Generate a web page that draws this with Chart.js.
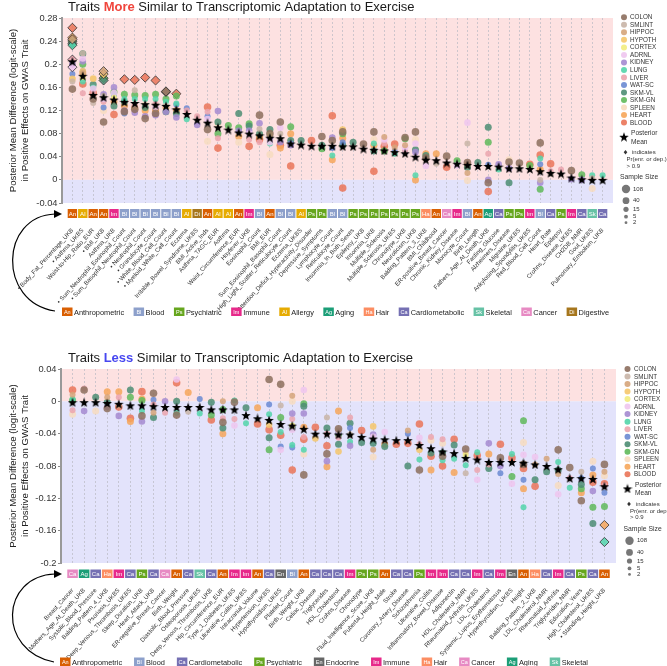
<!DOCTYPE html>
<html>
<head>
<meta charset="utf-8">
<script src="https://cdn.jsdelivr.net/npm/chart.js@4.4.0/dist/chart.umd.min.js"></script>
<style>
  body { margin: 0; background: #fff; }
  .wrap { position: relative; width: 667px; height: 333px; }
</style>
</head>
<body>
<div class="wrap"><canvas id="more" width="667" height="333" style="width:667px;height:333px"></canvas></div>
<div class="wrap"><canvas id="less" width="667" height="333" style="width:667px;height:333px"></canvas></div>
<script>
const _ = null;

// tissues (legend order)
const tissues = ['COLON', 'SMLINT', 'HIPPOC', 'HYPOTH', 'CORTEX', 'ADRNL', 'KIDNEY', 'LUNG',
  'LIVER', 'WAT-SC', 'SKM-VL', 'SKM-GN', 'SPLEEN', 'HEART', 'BLOOD'];

// ---------- top panel: traits more similar ----------
const moreTraits = ['Body_Fat_Percentage_UKB', 'Asthma_UKBS', 'Waist-to-Hip_Ratio_EUR', 'BMI_UKB', 'Asthma_UKB',
  'Sum_Neutrophil_Eosinophil_Count', 'Sum_Basophil_Neutrophil_Count', 'Neutrophil_Count', 'Granulocyte_Count',
  'White_Blood_Cell_Count', 'Myeloid_White_Cell_Count', 'Eczema', 'Irritable_Bowel_Syndrome_UKBS', 'BMI_Active_Inds',
  'Asthma_TAGC_EUR', 'Asthma', 'Waist_Circumference_EUR', 'Hayfever_UKB', 'Eosinophil_Count', 'BMI_EUR',
  'Sum_Eosinophil_Basophil_Count', 'High_Light_Scatter_Reticulocyte_Count', 'Eczema_UKBS',
  'Attention_Deficit_Hyperactivity_Disorder', 'Depressive_Symptoms', 'Lymphocyte_Count', 'Reticulocyte_Count',
  'Insomnia_In_Both_Sexes', 'Epilepsy_UKB', 'Insomnia_UKB', 'Multiple_Sclerosis', 'Multiple_Sclerosis_UKBS',
  'Chronotype_UKB', 'Neuroticism_UKB', 'Balding_Pattern_3_UKB', 'BMI_Childhood', 'ER-positive_Breast_Cancer',
  'Chronic_Kidney_Disease', 'Monocyte_Count', 'Birth_Length', 'Fathers_Age_At_Death_UKB', 'Fasting_Glucose',
  'Alzheimers_Disease', 'Migraine_UKBS', 'Ankylosing_Spondylitis_UKBS', 'Red_Blood_Cell_Count', 'Heart_Rate',
  'Epilepsy', 'Crohns_Disease_UKBS', 'CH2DB_NMR', 'Gout_UKBS', 'Pulmonary_Embolism_UKB'];
const moreGroups = ['An','Al','An','An','Im','Bl','Bl','Bl','Bl','Bl', 'Bl','Al','Di','An','Al','Al','An','Im','Bl','An',
  'Bl','Bl','Al','Ps','Ps','Bl','Bl','Ps','Ps','Ps', 'Ps','Ps','Ps','Ps','Ha','An','Cn','Im','Bl','An',
  'Ag','Ca','Ps','Ps','Im','Bl','Ca','Ps','Im','Ca', 'Sk','Ca'];
const moreBullets = [1, 2, 4, 6, 7, 8, 9, 10, 11];
const moreMeans = [.205,.180,.147,.143,.139,.135,.133,.131,.130,.128, .122,.114,.104,.099,.091,.087,.082,.080,.077,.073,
  .072,.063,.061,.059,.059,.059,.058,.058,.054,.052, .051,.048,.046,.040,.035,.034,.030,.028,.026,.024,
  .024,.023,.020,.020,.019,.015,.012,.011,.004,.001, .000,.000];
const moreColon = [.157,_,.140,.100,_,.118,.122,.106,.115,.153, _,_,_,.087,_,_,_,_,.112,.080,
  .100,_,_,_,.075,.068,.083,_,.062,.083, _,_,.073,.083,.038,_,.041,_,.030,_, -.005,_,.031,.029,_,.064,_,_,.016,_, _,_];
const moreSmlint = [.170,.219,.133,.145,_,_,.155,_,_,.128, _,_,_,_,_,_,_,_,.088,_,
  .080,_,_,_,_,_,_,_,_,_, _,_,_,_,_,.028,_,_,.063,_, _,_,_,_,_,.000,.010,_,_,_, .003,_];
const moreHippoc = [.243,.185,_,.188,_,_,_,_,_,.152, _,_,_,_,_,_,_,_,_,_,
  _,_,_,_,_,_,_,_,_,_, .074,.056,.060,_,_,_,_,_,.012,_, _,_,_,_,_,_,_,_,_,_, _,_];
const moreHypoth = [.175,.188,.175,.183,_,_,_,_,_,_, _,_,_,_,_,_,_,_,_,_,
  _,_,_,_,_,_,.087,_,_,_, _,_,_,_,_,_,_,_,_,_, _,_,_,_,_,_,_,_,_,_, _,_];
const moreCortex = [_,.178,_,_,.142,_,_,_,_,_, _,_,_,_,_,_,_,_,_,.078,
  _,_,_,_,_,_,_,_,_,_, _,_,_,_,_,_,_,_,_,_, _,_,_,_,_,_,_,_,_,_, _,_];
const moreAdrnl = [.195,.210,.158,.140,.150,_,_,_,.125,_, _,_,_,.105,_,_,_,.080,_,.065,
  .090,_,_,_,_,_,_,_,_,_, .070,_,.056,.063,.024,_,_,.025,.099,_, _,_,_,_,_,_,_,_,_,_, _,_];
const moreKidney = [.200,.205,_,.148,.160,.120,.116,.110,.112,.118, .108,_,.095,_,.119,_,.085,.085,.098,.072,
  .065,.060,_,_,_,.073,_,_,_,_, _,_,_,.048,_,_,_,_,_,_, .000,.027,.020,_,_,-.005,_,_,.001,.000, _,_];
const moreLung = [.233,.170,.160,_,.148,.140,.140,.140,.140,.135, .132,.105,_,_,_,_,_,_,_,.063,
  _,_,_,_,_,.042,_,_,_,.063, _,.045,_,.008,_,_,_,_,_,_, _,.018,_,_,_,.037,_,_,_,_, .008,.008];
const moreLiver = [.208,.150,.152,.135,.140,_,.130,_,.132,_, _,.120,.110,.118,.072,_,_,.070,.065,_,
  _,_,_,_,_,_,_,_,_,_, .063,_,.050,_,_,_,_,_,_,_, .045,_,_,_,_,_,.015,.018,_,_, _,_];
const moreWatsc = [.183,.188,_,.125,.146,.115,_,_,_,_, .130,.124,_,.110,_,_,_,_,_,_,
  _,.063,_,_,_,.055,.065,_,_,_, _,.050,.048,_,_,_,_,_,_,_, .026,_,_,_,_,.027,_,_,_,_, _,_];
const moreSkmvl = [.236,.218,.165,.172,.128,.135,_,.125,_,.118, .115,_,_,_,.100,_,.115,.093,.080,.087,
  _,.068,.068,_,.060,_,.060,.065,_,.050, _,_,_,.052,.042,_,_,_,.022,.030, .091,_,-.005,_,_,_,_,_,_,_, _,_];
const moreSkmgn = [.240,.200,_,.176,.152,.148,.147,.146,.148,.140, .145,_,_,_,.080,.094,.090,.097,_,_,
  _,.092,_,_,.054,_,.080,_,_,_, .050,_,.071,_,_,_,_,.033,_,_, .065,_,_,_,.025,-.016,_,_,_,.009, _,_];
const moreSpleen = [.174,.175,.176,.120,_,_,_,.130,_,_, _,_,_,.067,.095,_,.065,_,_,.044,
  _,_,_,_,_,_,_,_,_,.070, _,_,_,.070,_,_,_,_,-.001,_, _,_,.035,_,_,_,_,_,_,_, -.015,_];
const moreHeart = [.246,.185,_,_,.135,.128,.125,.120,.120,.125, .120,_,_,_,_,_,.075,_,.075,_,
  .055,.080,_,_,_,.035,.072,_,_,.060, _,_,_,.000,.045,.045,_,_,.025,_, _,_,_,_,_,.018,_,_,_,_, _,_];
const moreBlood = [.263,.166,.150,_,.113,.174,.173,.177,.172,_, .149,_,_,.126,.055,_,_,.058,.070,_,
  .060,.024,_,.068,_,.111,-.014,_,_,.015, .058,.062,_,_,_,_,.022,_,_,_, -.020,_,_,_,.027,.043,.028,_,_,_, _,_];
// Pr(enr. or dep.) > 0.9  -> [tissue, trait number]
const moreSignificant = [['HIPPOC',1],['ADRNL',1],['LUNG',1],['LIVER',1],['SKM-VL',1],['SKM-GN',1],['HEART',1],['BLOOD',1],
  ['HIPPOC',4],['HYPOTH',4],['SKM-VL',4],['SKM-GN',4],['BLOOD',6],['BLOOD',7],['BLOOD',8],['BLOOD',9],
  ['COLON',10],['HIPPOC',10],['BLOOD',11]];

// ---------- bottom panel: traits less similar ----------
const lessTraits = ['Breast_Cancer', 'Mothers_Age_At_Death_UKB', 'Systolic_Blood_Pressure', 'Balding_Pattern_4_UKB',
  'Psoriasis_UKBS', 'Deep_Venous_Thrombosis_UKBS', 'Sleep_Duration_UKB', 'Heart_Attack_UKB', 'ER-negative_Breast_Cancer',
  'Birth_Weight', 'Diastolic_Blood_Pressure', 'Osteoporosis_UKBS', 'Deep_Venous_Thrombosis_UKB', 'Hip_Circumference_EUR',
  'Type_1_Diabetes_UKBS', 'Ulcerative_Colitis_UKBS', 'Intracranial_Volume', 'Hypertension_UKBS', 'Hypothyroidism_UKBS',
  'Platelet_Count', 'Birth_Weight_UKB', 'Celiac_Disease', 'Triglycerides', 'HDL_Cholesterol', 'Crohns_Disease',
  'Chronotype', 'Fluid_Intelligence_Score_UKB', 'Pubertal_Height_Male', 'Stroke', 'Coronary_Artery_Disease',
  'Schizophrenia', 'Ulcerative_Colitis', 'Inflammatory_Bowel_Disease', 'Adiponectin', 'HDL_Cholesterol_NMR',
  'Rheumatoid_Arthritis_UKBS', 'LDL_Cholesterol', 'Systemic_Lupus_Erythematosus', 'Hyperthyroidism_UKBS', 'Height',
  'Balding_Pattern_2_UKB', 'LDL_Cholesterol_NMR', 'Rheumatoid_Arthritis', 'Triglycerides_NMR', 'Education_Years',
  'High_Cholesterol_UKBS', 'Standing_Height_UKB'];
const lessGroups = ['Cn','Ag','Ca','Ha','Im','Ca','Ps','Ca','Cn','An', 'Ca','Sk','Ca','An','Im','Im','An','Ca','En','Bl',
  'An','Ca','Ca','Ca','Im','Ps','Ps','An','Ca','Ca', 'Ps','Im','Im','Ca','Ca','Im','Ca','Im','En','An',
  'Ha','Ca','Im','Ca','Ps','Ca','An'];
const lessBullets = [47];
const lessMeans = [-.001,-.001,-.001,-.002,-.003,-.005,-.005,-.006,-.007,-.007, -.007,-.007,-.010,-.010,-.010,-.017,-.021,-.023,-.028,-.030,
  -.034,-.040,-.040,-.041,-.041,-.044,-.046,-.047,-.048,-.048, -.054,-.058,-.062,-.064,-.070,-.072,-.075,-.075,-.075,-.076,
  -.078,-.080,-.084,-.095,-.095,-.096,-.105];
const lessColon = [_,.014,_,-.009,_,_,-.018,.010,_,-.017, _,_,_,-.026,-.001,_,_,.027,.021,_,
  -.091,_,-.065,-.034,_,_,_,_,_,_, -.085,_,-.068,_,-.059,_,_,-.070,_,-.078, _,_,-.060,-.082,-.123,_,-.078];
const lessSmlint = [_,_,_,_,_,_,_,_,_,_, -.013,_,_,_,_,_,_,_,-.005,_,
  _,_,-.020,-.036,-.041,_,_,_,_,_, _,_,_,_,-.089,_,_,_,_,_, _,_,_,_,-.087,_,_];
const lessHippoc = [.008,_,_,.005,-.005,_,_,-.014,_,_, _,_,_,.000,_,_,_,_,_,.007,
  _,_,_,_,_,_,-.060,_,_,-.036, _,_,_,_,_,_,_,_,_,_, -.078,-.071,-.090,_,_,_,-.087];
const lessHypoth = [_,_,_,_,_,_,_,_,_,_, _,_,_,_,_,_,_,-.029,_,_,
  _,-.046,_,-.062,_,_,-.031,_,_,_, -.060,_,_,_,_,_,_,_,_,_, _,_,_,_,_,_,_];
const lessCortex = [_,_,_,_,_,_,_,_,_,_, _,_,_,_,_,_,_,_,_,-.030,
  _,_,_,_,_,_,_,_,_,_, _,_,_,_,-.066,_,_,_,_,_, _,_,_,_,_,_,_];
const lessAdrnl = [_,_,_,_,_,_,_,_,_,.027, _,_,_,_,-.030,_,_,_,-.060,-.035,
  .014,_,_,_,_,_,-.044,-.038,_,_, -.045,_,_,_,_,-.097,_,_,-.102,-.066, -.069,_,-.115,_,_,_,_];
const lessKidney = [_,-.012,_,-.007,-.018,_,-.025,_,.000,_, _,_,_,_,_,_,_,_,_,-.015,
  -.015,_,-.074,-.039,-.055,_,-.041,_,_,_, _,_,_,_,_,_,-.052,-.080,_,_, _,_,_,_,_,-.111,_];
const lessLung = [.003,_,_,_,_,_,-.012,_,_,-.014, _,-.015,_,_,.001,-.027,_,-.016,-.038,-.054,
  -.060,_,_,_,-.050,_,_,_,_,_, -.072,_,-.073,-.071,-.079,-.063,_,_,-.065,-.131, _,_,-.075,-.107,_,_,-.174];
const lessLiver = [-.011,.016,_,_,.005,_,_,-.004,-.014,_, _,_,_,-.021,-.022,_,_,_,_,-.022,
  -.044,_,-.040,-.045,-.020,_,_,_,_,_, -.053,-.044,-.047,_,-.063,-.085,-.078,_,_,_, _,_,_,-.095,_,_,-.104];
const lessWatsc = [_,_,_,_,_,_,_,.002,_,_, _,.003,_,_,_,_,_,-.004,-.056,-.057,
  _,_,_,_,-.033,_,_,_,_,-.040, _,_,_,_,_,_,_,-.089,_,-.097, _,_,_,_,-.095,-.083,-.113];
const lessSkmvl = [_,_,.005,-.001,_,.014,_,-.020,_,.000, _,_,-.001,-.033,_,-.008,_,-.045,_,-.033,
  -.006,_,-.033,-.053,-.027,-.051,-.052,-.056,_,-.080, _,-.064,-.064,-.054,_,_,-.083,_,_,_, -.097,-.087,-.085,_,-.103,-.151,_];
const lessSkmgn = [.001,_,_,_,_,.005,.001,_,_,_, _,_,-.017,-.010,_,_,_,-.060,-.020,_,
  -.003,_,_,-.041,_,_,_,_,_,_, _,_,_,_,_,_,_,_,-.093,-.024, _,_,_,_,-.108,-.131,-.130];
const lessSpleen = [-.016,_,-.012,_,_,_,_,_,_,_, _,_,_,_,_,_,_,_,_,.000,
  -.065,_,_,_,_,_,-.069,_,_,_, _,-.048,-.052,_,_,_,_,_,_,-.051, _,_,-.104,_,_,-.074,-.092];
const lessHeart = [_,_,_,.012,.012,-.025,.003,_,_,_, .011,_,_,-.040,_,_,-.008,_,_,_,
  -.032,_,-.081,-.012,_,_,_,-.053,_,_, _,-.085,_,-.088,_,_,-.065,_,_,-.108, _,_,_,_,-.113,-.091,-.153];
const lessBlood = [.014,_,_,_,-.007,-.021,.012,_,_,.023, _,_,-.023,_,_,_,-.028,-.035,-.042,-.085,
  -.047,-.032,-.055,_,_,-.036,_,_,-.053,-.052, -.028,-.068,-.080,-.047,_,-.067,_,-.053,-.070,-.083, -.105,_,_,_,_,-.100,-.102];
const lessSignificant = [['LUNG',47],['HEART',47]];

// ---------- styles ----------
const tissueColors = ['#8c6e5d', '#c8b4a6', '#d5a47a', '#f5c66a', '#f2ec7e', '#eec5ee', '#a48ad0', '#52d5aa',
  '#eba5ae', '#6a8ad2', '#4c8d73', '#5fb95a', '#f7dcc0', '#f6a65a', '#ea7458'];
const tissueRadius = [3.8, 3, 3, 3.3, 3, 3.3, 3.3, 3, 3, 3, 3.5, 3.5, 3.5, 3.5, 3.8];
const groupColors = { An: '#d95f02', Al: '#e6ab02', Im: '#e7298a', Bl: '#8da0cb', Di: '#a6761d', Ps: '#66a61e',
  Ag: '#1b9e77', Ha: '#fc8d62', Ca: '#7570b3', Sk: '#66c2a5', Cn: '#e78ac3', En: '#666666' };
const groupText = { An: 'An', Al: 'Al', Im: 'Im', Bl: 'Bl', Di: 'Di', Ps: 'Ps', Ag: 'Ag', Ha: 'Ha', Ca: 'Ca', Sk: 'Sk', Cn: 'Ca', En: 'En' };
const groupNames = { An: 'Anthropometric', Al: 'Allergy', Im: 'Immune', Bl: 'Blood', Di: 'Digestive', Ps: 'Psychiatric',
  Ag: 'Aging', Ha: 'Hair', Ca: 'Cardiometabolic', Sk: 'Skeletal', Cn: 'Cancer', En: 'Endocrine' };

Chart.defaults.font.family = 'Arial, "Liberation Sans", sans-serif';

function hexA(hex, a) {
  const n = parseInt(hex.slice(1), 16);
  return `rgba(${n >> 16},${(n >> 8) & 255},${n & 255},${a})`;
}

function makeStar(size) {
  const c = document.createElement('canvas');
  c.width = c.height = size;
  const g = c.getContext('2d');
  g.beginPath();
  for (let i = 0; i < 10; i++) {
    const r = i % 2 ? size * 0.21 : size * 0.5;
    const t = -Math.PI / 2 + i * Math.PI / 5;
    g.lineTo(size / 2 + r * Math.cos(t), size / 2 + 0.6 + r * Math.sin(t));
  }
  g.closePath();
  g.fillStyle = '#000';
  g.fill();
  return c;
}
const starImg = makeStar(10);

function drawStar(ctx, x, y) {
  ctx.drawImage(starImg, x - 5, y - 5);
}

// extra drawing: bands, title, category badges, arrow, legends
function panelPlugin(p) {
  return {
    id: 'panel_' + p.id,
    beforeDraw(chart) {
      const { ctx, chartArea: a } = chart;
      const y0 = chart.scales.y.getPixelForValue(0);
      ctx.save();
      ctx.fillStyle = '#fde1e1';
      ctx.fillRect(a.left, a.top, a.right - a.left, y0 - a.top);
      ctx.fillStyle = '#e3e3fb';
      ctx.fillRect(a.left, y0, a.right - a.left, a.bottom - y0);
      ctx.restore();
    },
    afterDraw(chart) {
      const { ctx, chartArea: a } = chart;
      const xs = chart.scales.x;
      ctx.save();

      // title
      ctx.font = '13px Arial';
      ctx.textBaseline = 'alphabetic';
      ctx.textAlign = 'left';
      let tx = 68;
      ctx.fillStyle = '#1a1a1a';
      ctx.fillText('Traits ', tx, p.titleY);
      tx += ctx.measureText('Traits ').width;
      ctx.font = 'bold 13px Arial';
      ctx.fillStyle = p.wordColor;
      ctx.fillText(p.word, tx, p.titleY);
      tx += ctx.measureText(p.word).width;
      ctx.font = '13px Arial';
      ctx.fillStyle = '#1a1a1a';
      ctx.fillText(' Similar to Transcriptomic Adaptation to Exercise', tx, p.titleY);

      // category badges
      const step = xs.getPixelForValue(2) - xs.getPixelForValue(1);
      const by = a.bottom + p.badgeGap;
      p.groups.forEach((g, i) => {
        const px = xs.getPixelForValue(i + 1);
        ctx.fillStyle = groupColors[g];
        ctx.fillRect(px - step / 2 + 0.5, by, step - 1, p.badgeH);
        ctx.fillStyle = '#fff';
        ctx.font = '6px Arial';
        ctx.textAlign = 'center';
        ctx.textBaseline = 'middle';
        ctx.fillText(groupText[g], px, by + p.badgeH / 2 + 0.5);
      });

      // curved arrow
      const ar = p.arrow;
      ctx.strokeStyle = '#000';
      ctx.lineWidth = 1.2;
      ctx.beginPath();
      ctx.moveTo(ar[0], ar[1]);
      ctx.bezierCurveTo(ar[2], ar[3], ar[4], ar[5], ar[6], ar[7]);
      ctx.stroke();
      ctx.fillStyle = '#000';
      ctx.beginPath();
      ctx.moveTo(ar[6] + 7, ar[7]);
      ctx.lineTo(ar[6] - 1, ar[7] - 4);
      ctx.lineTo(ar[6] - 1, ar[7] + 4);
      ctx.closePath();
      ctx.fill();

      // category legend row
      ctx.font = '7.4px Arial';
      const widths = p.legendGroups.map(g => ctx.measureText(groupNames[g]).width);
      const used = widths.reduce((s, w) => s + w + 12, 0);
      const gap = (p.legendX1 - p.legendX0 - used) / (p.legendGroups.length - 1);
      let lx = p.legendX0;
      p.legendGroups.forEach((g, i) => {
        ctx.fillStyle = groupColors[g];
        ctx.fillRect(lx, p.legendY - 4.5, 10.5, 8.5);
        ctx.fillStyle = '#fff';
        ctx.font = '5.5px Arial';
        ctx.textAlign = 'center';
        ctx.textBaseline = 'middle';
        ctx.fillText(groupText[g], lx + 5.25, p.legendY);
        ctx.fillStyle = '#222';
        ctx.font = '7.4px Arial';
        ctx.textAlign = 'left';
        ctx.fillText(groupNames[g], lx + 12, p.legendY + 0.5);
        lx += 12 + widths[i] + gap;
      });

      // tissue legend
      const L = p.leg;
      ctx.textAlign = 'left';
      ctx.textBaseline = 'middle';
      tissues.forEach((t, i) => {
        const yy = L.y + i * 7.52;
        ctx.fillStyle = hexA(tissueColors[i], 0.9);
        ctx.beginPath();
        ctx.arc(L.cx, yy, 3, 0, Math.PI * 2);
        ctx.fill();
        ctx.fillStyle = '#333';
        ctx.font = '6.3px Arial';
        ctx.fillText(t, L.tx, yy + 0.3);
      });
      drawStar(ctx, L.cx, L.y + 119.4);
      ctx.fillStyle = '#333';
      ctx.font = '6.6px Arial';
      ctx.fillText('Posterior', L.tx + 1, L.y + 116);
      ctx.fillText('Mean', L.tx + 1, L.y + 124.4);
      ctx.beginPath();
      const dx = L.cx + 1.5, dy = L.y + 135;
      ctx.moveTo(dx, dy - 2.3); ctx.lineTo(dx + 1.8, dy); ctx.lineTo(dx, dy + 2.3); ctx.lineTo(dx - 1.8, dy);
      ctx.closePath();
      ctx.fill();
      ctx.font = '6px Arial';
      ctx.fillText('indicates', L.tx + 2, L.y + 135);
      ctx.fillText('Pr(enr. or dep.)', L.cx + 2.5, L.y + 142);
      ctx.fillText('> 0.9', L.cx + 2.5, L.y + 148.6);
      ctx.font = '6.8px Arial';
      ctx.fillText('Sample Size', L.cx - 4, L.y + 160);
      const sizes = [['108', 4.2, 171.7], ['40', 3.4, 183.4], ['15', 2.6, 192], ['5', 1.9, 199.4], ['2', 1.4, 205.4]];
      sizes.forEach(([s, r, off]) => {
        ctx.fillStyle = '#777';
        ctx.beginPath();
        ctx.arc(L.cx + 2, L.y + off, r, 0, Math.PI * 2);
        ctx.fill();
        ctx.fillStyle = '#333';
        ctx.font = '6px Arial';
        ctx.fillText(s, L.tx + 3, L.y + off);
      });
      ctx.restore();
    }
  };
}

function buildChart(p) {
  const n = p.traits.length;
  const labels = ['', ...p.traits.map((t, i) => p.bullets.includes(i + 1) ? '\u2022 ' + t : t), ''];
  const pad = arr => [null, ...arr, null];
  const sig = new Set(p.significant.map(([t, c]) => t + '@' + c));
  const isSig = (ti, ctx) => sig.has(tissues[ti] + '@' + ctx.dataIndex);

  const datasets = [{
    label: 'Posterior Mean',
    data: pad(p.means),
    showLine: false,
    pointStyle: starImg,
    pointRadius: 5
  }];
  p.series.forEach((vals, ti) => {
    datasets.push({
      label: tissues[ti],
      data: pad(vals),
      showLine: false,
      backgroundColor: hexA(tissueColors[ti], 0.85),
      pointBackgroundColor: hexA(tissueColors[ti], 0.85),
      pointBorderColor: ctx => isSig(ti, ctx) ? '#333' : 'rgba(0,0,0,0)',
      pointBorderWidth: ctx => isSig(ti, ctx) ? 0.8 : 0,
      pointStyle: ctx => isSig(ti, ctx) ? 'rectRot' : 'circle',
      pointRadius: ctx => isSig(ti, ctx) ? 4.6 : tissueRadius[ti]
    });
  });

  return new Chart(document.getElementById(p.id), {
    type: 'line',
    data: { labels, datasets },
    options: {
      responsive: false,
      animation: false,
      events: [],
      layout: { padding: { left: 0, top: p.padTop, right: p.padRight, bottom: 0 } },
      plugins: { legend: { display: false }, tooltip: { enabled: false }, title: { display: false } },
      scales: {
        x: {
          type: 'category',
          offset: false,
          grid: {
            color: c => (c.index === 0 || c.index === n + 1) ? 'rgba(0,0,0,0)' : '#b9b9c4',
            lineWidth: 0.7,
            drawTicks: false,
            offset: false
          },
          border: { display: false, dash: [2, 2] },
          ticks: {
            autoSkip: false, minRotation: 48, maxRotation: 48, padding: p.tickPad,
            font: { size: 6.1 }, color: '#333'
          },
          afterFit: s => { s.height = p.xAxisH; }
        },
        y: {
          min: p.yMin, max: p.yMax,
          ticks: {
            stepSize: 0.04, padding: 1.5, font: { size: 9.3 }, color: '#333',
            callback: v => String(parseFloat(v.toFixed(2)))
          },
          grid: { drawOnChartArea: false, drawTicks: true, tickLength: 3, color: '#888' },
          border: { display: true, color: '#999', width: 2 },
          title: {
            display: true,
            text: ['Posterior Mean Difference (logit-scale)', 'in Positive Effects on GWAS Trait'],
            font: { size: 9.6 }, color: '#222', padding: { top: 8, bottom: 2 }
          },
          afterFit: s => { s.width = p.plotLeft; }
        }
      }
    },
    plugins: [panelPlugin(p)]
  });
}

buildChart({
  id: 'more', word: 'More', wordColor: '#f0453c',
  traits: moreTraits, groups: moreGroups, bullets: moreBullets, means: moreMeans,
  series: [moreColon, moreSmlint, moreHippoc, moreHypoth, moreCortex, moreAdrnl, moreKidney, moreLung,
    moreLiver, moreWatsc, moreSkmvl, moreSkmgn, moreSpleen, moreHeart, moreBlood],
  significant: moreSignificant,
  yMin: -0.04, yMax: 0.28,
  padTop: 18, padRight: 54, plotLeft: 62, xAxisH: 130, tickPad: 24,
  titleY: 10.5, badgeGap: 6, badgeH: 9,
  arrow: [55, 311, -3, 302, 0, 216, 55, 214],
  legendGroups: ['An', 'Bl', 'Ps', 'Im', 'Al', 'Ag', 'Ha', 'Ca', 'Sk', 'Cn', 'Di'],
  legendX0: 62, legendX1: 609, legendY: 312,
  leg: { y: 17.3, cx: 624, tx: 630 }
});

buildChart({
  id: 'less', word: 'Less', wordColor: '#4747f0',
  traits: lessTraits, groups: lessGroups, bullets: lessBullets, means: lessMeans,
  series: [lessColon, lessSmlint, lessHippoc, lessHypoth, lessCortex, lessAdrnl, lessKidney, lessLung,
    lessLiver, lessWatsc, lessSkmvl, lessSkmgn, lessSpleen, lessHeart, lessBlood],
  significant: lessSignificant,
  yMin: -0.2, yMax: 0.04,
  padTop: 36, padRight: 51, plotLeft: 61, xAxisH: 103, tickPad: 24,
  titleY: 29, badgeGap: 6.5, badgeH: 8.5,
  arrow: [54, 329, -3, 318, 0, 243, 55, 241],
  legendGroups: ['An', 'Bl', 'Ca', 'Ps', 'En', 'Im', 'Ha', 'Cn', 'Ag', 'Sk'],
  legendX0: 60, legendX1: 588, legendY: 329,
  leg: { y: 36, cx: 627.5, tx: 634 }
});
</script>
</body>
</html>
